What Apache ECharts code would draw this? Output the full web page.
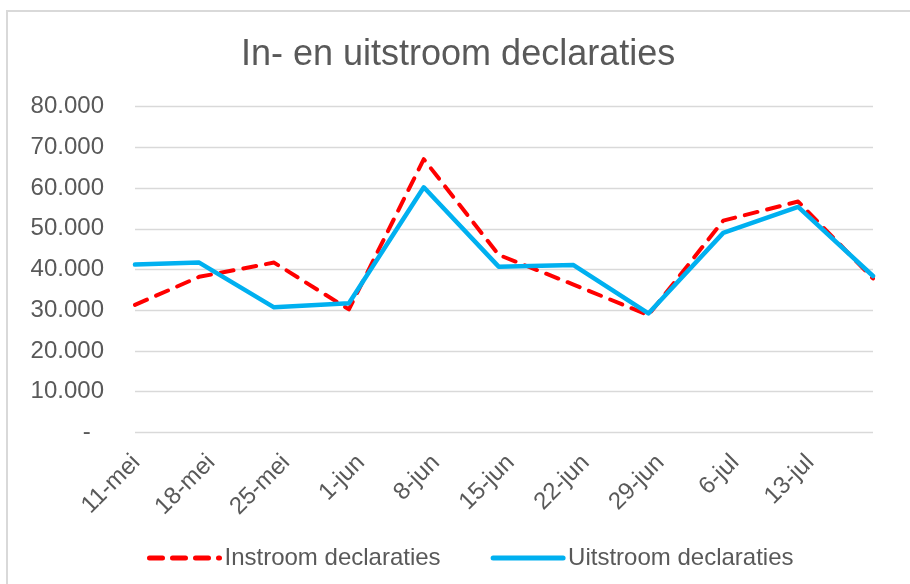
<!DOCTYPE html>
<html>
<head>
    <meta charset="utf-8" />
    <title>In- en uitstroom declaraties</title>
    <script src="https://cdn.jsdelivr.net/npm/echarts@6/dist/echarts.min.js"></script>
    <style>
        *{
            margin:0;
            padding:0;
        }
        body{
            background:#fff;
        }
        #main{
            width:910px;
            height:584px;
        }
    </style>
</head>
<body>
<div id="main"></div>
<script type="text/javascript">
    // weekdata (peildata) en labels van de x-as
    var dates = ['2020-05-11', '2020-05-17', '2020-05-24', '2020-05-31', '2020-06-07', '2020-06-14',
                 '2020-06-21', '2020-06-28', '2020-07-05', '2020-07-12', '2020-07-19'];
    var xLabels = ['11-mei', '18-mei', '25-mei', '1-jun', '8-jun', '15-jun', '22-jun', '29-jun', '6-jul', '13-jul'];
    var instroom = [31300, 38200, 41700, 30200, 67100, 43600, 36300, 28800, 52000, 56700, 37800];
    var uitstroom = [41200, 41700, 30700, 31700, 60200, 40700, 41100, 29200, 49000, 55400, 38400];

    var grey = '#595959';
    var font = 'Liberation Sans';

    // dagen vanaf de eerste datum
    function dayNr(s){
        var p = s.split('-');
        var t = Date.UTC(+p[0], +p[1] - 1, +p[2]);
        var p0 = dates[0].split('-');
        var t0 = Date.UTC(+p0[0], +p0[1] - 1, +p0[2]);
        return Math.round((t - t0) / 86400000);
    }
    function pairs(vals){
        return vals.map(function(v, i){ return [dayNr(dates[i]), v]; });
    }
    function nlNumber(v){
        if (v === 0) return '-  ';
        return String(v).replace(/\B(?=(\d{3})+(?!\d))/g, '.');
    }

    var myChart = echarts.init(document.getElementById('main'));

    var option = {
        animation: false,
        textStyle: {fontFamily: font, color: grey},
        graphic: [{
            type: 'rect',
            shape: {x: 7, y: 11, width: 1000, height: 1000},
            style: {fill: 'none', stroke: '#d9d9d9', lineWidth: 2},
            silent: true
        }],
        title: {
            text: 'In- en uitstroom declaraties',
            left: 241,
            top: 37,
            padding: 0,
            textStyle: {fontFamily: font, fontSize: 36, fontWeight: 'normal', color: grey}
        },
        legend: {
            left: 147,
            top: 546,
            itemWidth: 70,
            itemHeight: 14,
            itemGap: 50,
            padding: 0,
            itemStyle: {opacity: 0},
            lineStyle: {width: 5},
            textStyle: {fontFamily: font, fontSize: 24, color: grey},
            data: ['Instroom declaraties', 'Uitstroom declaraties']
        },
        grid: {
            left: 135,
            right: 37,
            top: 106.7,
            bottom: 151.7
        },
        xAxis: {
            type: 'value',
            min: 0,
            max: dayNr(dates[dates.length - 1]),
            interval: 7,
            axisLine: {show: false},
            axisTick: {show: false},
            splitLine: {show: false},
            axisLabel: {
                rotate: 45,
                align: 'right',
                verticalAlign: 'top',
                margin: 11,
                padding: [0, 10, 0, 0],
                fontFamily: font,
                fontSize: 24,
                color: grey,
                showMaxLabel: false,
                formatter: function(v){
                    if (v % 7 !== 0) return '';
                    return xLabels[v / 7] || '';
                }
            }
        },
        yAxis: {
            type: 'value',
            min: 0,
            max: 80000,
            interval: 10000,
            axisLine: {show: false},
            axisTick: {show: false},
            splitLine: {lineStyle: {color: '#d9d9d9', width: 1.3}},
            axisLabel: {
                margin: 31,
                fontFamily: font,
                fontSize: 24,
                color: grey,
                formatter: nlNumber
            }
        },
        series: [{
            name: 'Instroom declaraties',
            type: 'line',
            symbol: 'none',
            lineStyle: {color: '#ff0000', width: 4, type: [13, 10], cap: 'round', join: 'round'},
            itemStyle: {color: '#ff0000'},
            data: pairs(instroom)
        }, {
            name: 'Uitstroom declaraties',
            type: 'line',
            symbol: 'none',
            lineStyle: {color: '#00b0f0', width: 4.5, cap: 'round', join: 'round'},
            itemStyle: {color: '#00b0f0'},
            data: pairs(uitstroom)
        }]
    };

    myChart.setOption(option);
</script>
</body>
</html>
